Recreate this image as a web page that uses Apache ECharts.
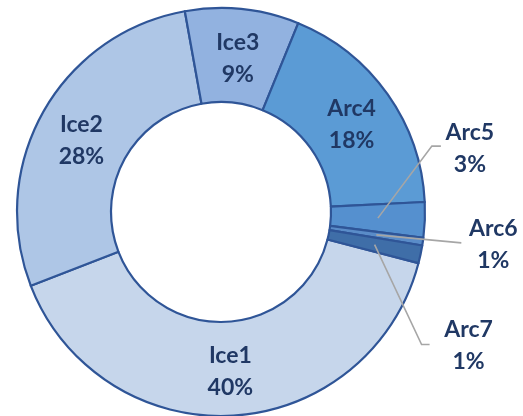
<!DOCTYPE html>
<html>
<head>
<meta charset="utf-8">
<script src="https://cdn.jsdelivr.net/npm/echarts@6/dist/echarts.min.js"></script>
<style>
html,body{margin:0;padding:0;background:#fff;}
#chart{width:523px;height:416px;}
</style>
</head>
<body>
<div id="chart"></div>
<script>
// ---- data ----
const categories = ['Ice1', 'Ice2', 'Ice3', 'Arc4', 'Arc5', 'Arc6', 'Arc7'];
const values = [40, 28, 9, 18, 2.8, 0.6, 1.4];
const outsideLabelNames = ['Arc5', 'Arc6', 'Arc7'];

// ---- styles ----
const colors = ['#c6d6eb', '#aec6e6', '#92b2e0', '#5b9bd5', '#5590cf', '#5a8cc8', '#3f6ea8'];
const borderColor = '#2f5597';
const textColor = '#203864';
// small vertical nudges for the inside labels
const insideLabelDy = {Ice1: 0, Ice2: 7, Ice3: 6, Arc4: 5};
// leader-line offsets (relative to the line's start point inside the ring)
const leaderStyle = {
  Arc5: {pts: [[54, -72], [63, -72]], label: [92, -70]},
  Arc6: {pts: [[85, 8]], label: [117, 10]},
  Arc7: {pts: [[47, 100], [55, 100]], label: [94, 101]}
};

const center = [221, 212];
const startAngle = 345.5;

const ringData = categories.map((c, i) => ({
  name: c,
  value: values[i],
  itemStyle: {color: colors[i]},
  label: {show: outsideLabelNames.indexOf(c) < 0}
}));
const ghostData = categories.map((c, i) => ({
  name: c,
  value: values[i],
  label: {show: outsideLabelNames.indexOf(c) >= 0},
  labelLine: {show: outsideLabelNames.indexOf(c) >= 0}
}));

const labelFont = {
  fontFamily: 'Lato, "Open Sans", sans-serif',
  fontWeight: 'bold',
  fontSize: 23,
  lineHeight: 32,
  color: textColor
};

const chart = echarts.init(document.getElementById('chart'), null, {renderer: 'canvas'});
chart.setOption({
  animation: false,
  backgroundColor: '#ffffff',
  series: [
    {
      type: 'pie',
      z: 2,
      center: center,
      radius: [110, 204],
      startAngle: startAngle,
      clockwise: true,
      avoidLabelOverlap: false,
      percentPrecision: 0,
      emphasis: {disabled: true},
      itemStyle: {borderColor: borderColor, borderWidth: 2.2},
      label: Object.assign({position: 'inside', formatter: '{b}\n{d}%'}, labelFont),
      labelLine: {show: false},
      labelLayout: function (params) {
        const name = categories[params.dataIndex];
        const dy = insideLabelDy[name];
        return dy ? {dy: dy} : {};
      },
      data: ringData
    },
    {
      type: 'pie',
      z: 5,
      center: center,
      radius: [0, 157],
      startAngle: startAngle,
      clockwise: true,
      silent: true,
      avoidLabelOverlap: false,
      percentPrecision: 0,
      emphasis: {disabled: true},
      itemStyle: {color: 'rgba(0,0,0,0)', borderWidth: 0},
      label: Object.assign({position: 'outside', formatter: '{b}\n{d}%', align: 'center'}, labelFont),
      labelLine: {show: true, length: 10, length2: 10, lineStyle: {color: '#a6a6a6', width: 1.6}},
      labelLayout: function (params) {
        const name = categories[params.dataIndex];
        const st = leaderStyle[name];
        if (!st) return {};
        let p0 = params.labelLinePoints && params.labelLinePoints[0];
        if (!p0) {
          const total = values.reduce((a, b) => a + b, 0);
          let before = 0;
          for (let k = 0; k < params.dataIndex; k++) before += values[k];
          const ang = (90 - startAngle + (before + values[params.dataIndex] / 2) / total * 360) * Math.PI / 180;
          p0 = [center[0] + 157 * Math.sin(ang), center[1] - 157 * Math.cos(ang)];
        }
        const pts = [[p0[0], p0[1]]].concat(st.pts.map(d => [p0[0] + d[0], p0[1] + d[1]]));
        return {
          x: p0[0] + st.label[0],
          y: p0[1] + st.label[1],
          align: 'center',
          verticalAlign: 'middle',
          labelLinePoints: pts
        };
      },
      data: ghostData
    }
  ]
});
</script>
</body>
</html>
